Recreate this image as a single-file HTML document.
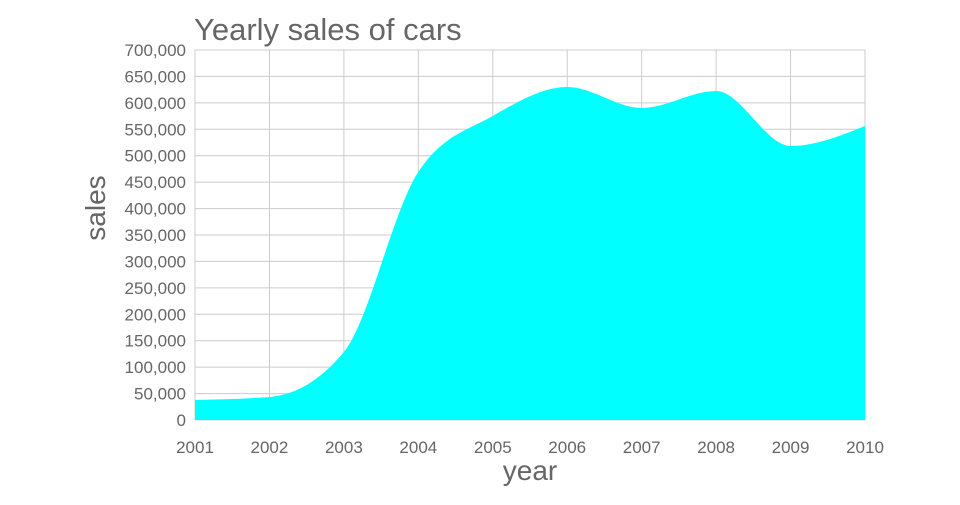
<!DOCTYPE html>
<html><head><meta charset="utf-8"><style>
body{margin:0;background:#fff;}
svg text{font-family:"Liberation Sans",sans-serif;fill:#666;}
</style></head><body>
<svg id="s" width="960" height="500" xmlns="http://www.w3.org/2000/svg">
<g id="grid" stroke="#cccccc" stroke-width="1"></g>
<path id="area" fill="#00ffff"/>
<g id="lab" font-size="17"></g>
<text x="194" y="40" font-size="31" fill="#555">Yearly sales of cars</text>
<text x="530" y="480" font-size="28" text-anchor="middle" fill="#888">year</text>
<text transform="translate(105,208) rotate(-90)" font-size="28" text-anchor="middle" fill="#888">sales</text>
</svg>
<script>
var ns="http://www.w3.org/2000/svg",g=document.getElementById('grid'),lab=document.getElementById('lab');
function el(p,t,a,txt){var e=document.createElementNS(ns,t);for(var k in a)e.setAttribute(k,a[k]);if(txt)e.textContent=txt;p.appendChild(e);}
var x0=195,x1=865,y0=420,y1=50;
for(var i=0;i<=14;i++){var y=y0-(y0-y1)*i/14;el(g,'line',{x1:x0,x2:x1,y1:y,y2:y});
el(lab,'text',{x:186,y:y+6,'text-anchor':'end'},(i*50000).toLocaleString('en-US'));}
for(var j=0;j<10;j++){var x=x0+(x1-x0)*j/9;el(g,'line',{x1:x,x2:x,y1:y1,y2:y0});
el(lab,'text',{x:x,y:453,'text-anchor':'middle'},String(2001+j));}
var ys=[400,397,352,172,116,87,108,91,146,126],n=ys.length,h=(x1-x0)/9,xs=ys.map(function(_,i){return x0+h*i;});
var s=[],m=[];for(var i=0;i<n-1;i++)s.push((ys[i+1]-ys[i])/h);
for(var i=1;i<n-1;i++){var a=s[i-1],b=s[i];m[i]=(a*b<=0)?0:(Math.sign(a)+Math.sign(b))*Math.min(Math.abs(a),Math.abs(b),0.5*Math.abs((a+b)/2));}
m[0]=(3*s[0]-m[1])/2;m[n-1]=(3*s[n-2]-m[n-2])/2;
var d='M'+xs[0]+','+ys[0];
for(var i=0;i<n-1;i++){var dx=h/3;
d+=' C'+(xs[i]+dx)+','+(ys[i]+m[i]*dx)+' '+(xs[i+1]-dx)+','+(ys[i+1]-m[i+1]*dx)+' '+xs[i+1]+','+ys[i+1];}
d+=' L'+x1+','+y0+' L'+x0+','+y0+' Z';
document.getElementById('area').setAttribute('d',d);
</script>
</body></html>
